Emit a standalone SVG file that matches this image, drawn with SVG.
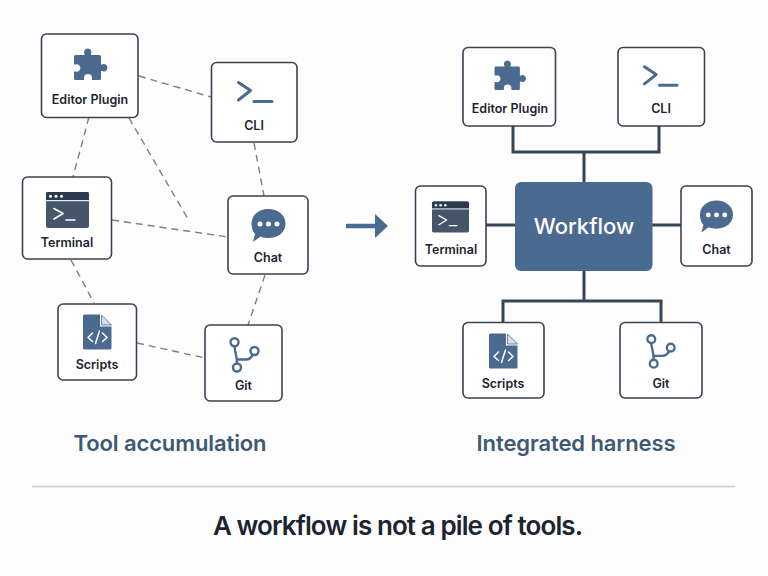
<svg xmlns="http://www.w3.org/2000/svg" width="768" height="576" viewBox="0 0 768 576">
<style>
.box{fill:#fff;stroke:#3a4350;stroke-width:1.6}
.lbl{font-family:Inter,"Liberation Sans",sans-serif;font-weight:600;font-size:12.5px;fill:#1c2430;text-anchor:middle}
.head{font-family:Inter,"Liberation Sans",sans-serif;font-weight:600;font-size:22px;letter-spacing:-0.1px;fill:#3e5876;text-anchor:middle}
.dash{fill:none;stroke:#7a8087;stroke-width:1.4;stroke-dasharray:7 5}
.solid{fill:none;stroke:#36465a;stroke-width:3}
.ic{fill:#4a6a8f}
.icl{fill:none;stroke:#4a6a8f;stroke-linecap:round;stroke-linejoin:round}
</style>
<defs>
<symbol id="puzzle" viewBox="0 0 33 33" overflow="visible">
<path class="ic" d="M1.500 7H10.500V6A3.700 3.700 0 1 1 17 6V7H25.500Q27 7 27 8.500V16.500H28A3.700 3.700 0 1 1 28 23H27V30.500Q27 32 25.500 32H18V30A4 4 0 0 0 10 30V32H1.500Q0 32 0 30.500V23.500H1.500A3.700 3.700 0 1 0 1.500 16.500H0V8.500Q0 7 1.500 7Z"/>
</symbol>
<symbol id="prompt" viewBox="0 0 36 22" overflow="visible">
<path class="icl" stroke-width="3" d="M1.500 1.500L13.500 9.500L1.500 19"/>
<path class="icl" stroke-width="3" stroke-linecap="butt" d="M17 20.500H35"/>
</symbol>
<symbol id="term" viewBox="0 0 43 36" overflow="visible">
<rect x="0" y="0" width="43" height="36" rx="2" fill="#45566a"/>
<path d="M2 0H41Q43 0 43 2V8H0V2Q0 0 2 0Z" fill="#2c3a4d"/>
<rect x="0" y="8" width="43" height="1.200" fill="#e8edf2"/>
<circle cx="4.500" cy="4.300" r="1.500" fill="#fff"/><circle cx="10" cy="4.300" r="1.500" fill="#fff"/><circle cx="15.500" cy="4.300" r="1.500" fill="#fff"/>
<path d="M8 16.500L17 21.500L8 27M20 28H29" fill="none" stroke="#fff" stroke-width="1.600" stroke-linecap="round" stroke-linejoin="round"/>
</symbol>
<symbol id="chat" viewBox="0 0 36 33" overflow="visible">
<path class="ic" d="M18 0C28 0 35 6.500 35 14.500C35 23 28 29 18 29C15 29 12.500 28.500 10 27.500L2.500 33L4.500 25C2 22.500 1 18.500 1 14.500C1 6.500 8 0 18 0Z"/>
<circle cx="9.500" cy="15" r="2.500" fill="#fff"/><circle cx="18" cy="15" r="2.500" fill="#fff"/><circle cx="26.500" cy="15" r="2.500" fill="#fff"/>
</symbol>
<symbol id="file" viewBox="0 0 29 35" overflow="visible">
<path class="ic" d="M1.500 0H17V12H28.500V33.500Q28.500 35 27 35H1.500Q0 35 0 33.500V1.500Q0 0 1.500 0Z"/>
<path d="M18.500 0.500L28.500 10.500H18.500Z" fill="#d5deea" stroke="#4a6a8f" stroke-width="0.800"/>
<path d="M9.500 18.500L5 23L9.500 27M19.500 18.500L24 23L19.500 27M16.500 16.500L12.500 29" fill="none" stroke="#fff" stroke-width="1.500" stroke-linecap="round" stroke-linejoin="round"/>
</symbol>
<symbol id="git" viewBox="0 0 30 36" overflow="visible">
<path class="icl" stroke-width="2.400" d="M5 9C5.500 16 7.500 19 7.500 26M8 22.500H16C20 22.500 22 21 23.500 17"/>
<circle cx="5" cy="5.300" r="4" fill="#fff" stroke="#4a6a8f" stroke-width="2.400"/>
<circle cx="25" cy="14" r="4" fill="#fff" stroke="#4a6a8f" stroke-width="2.400"/>
<circle cx="7.500" cy="30.500" r="4" fill="#fff" stroke="#4a6a8f" stroke-width="2.400"/>
</symbol>
</defs>
<rect width="768" height="576" fill="#fdfdfd"/>
<g id="connectors">
<path class="dash" d="M139 76L211 97"/>
<path class="dash" d="M89 117L73 177"/>
<path class="dash" d="M129 118L188 219"/>
<path class="dash" d="M254 143L264 196"/>
<path class="dash" d="M112 220L228 237"/>
<path class="dash" d="M71 260L94 303"/>
<path class="dash" d="M265 275L248 325"/>
<path class="dash" d="M137 343L205 358"/>
<path class="solid" d="M513 126V152H659V126M584 152V182"/>
<path class="solid" d="M486 225H515M652 225H681"/>
<path class="solid" d="M584 271V300M503 322V301H661V322"/>
<path d="M346 226H377" fill="none" stroke="#4a6a8f" stroke-width="4.500"/>
<path d="M375 214L388 226L375 238Z" fill="#4a6a8f"/>
</g>
<g id="left-editor"><rect class="box" x="41.500" y="34" width="96.500" height="83.500" rx="5"/><use href="#puzzle" x="74" y="48" width="33" height="33"/><text class="lbl" x="90" y="104">Editor Plugin</text></g>
<g id="left-cli"><rect class="box" x="211.500" y="62.500" width="85.500" height="79.500" rx="5"/><use href="#prompt" x="237" y="81" width="36" height="22"/><text class="lbl" x="254" y="130">CLI</text></g>
<g id="left-terminal"><rect class="box" x="22.500" y="177" width="89" height="82" rx="5"/><use href="#term" x="46" y="192" width="43" height="36"/><text class="lbl" x="67" y="247">Terminal</text></g>
<g id="left-chat"><rect class="box" x="228" y="196" width="80" height="78" rx="5"/><use href="#chat" x="250.500" y="209" width="36" height="33"/><text class="lbl" x="268" y="262">Chat</text></g>
<g id="left-scripts"><rect class="box" x="58" y="304" width="78.500" height="76" rx="5"/><use href="#file" x="83" y="314.500" width="29" height="35"/><text class="lbl" x="97" y="369">Scripts</text></g>
<g id="left-git"><rect class="box" x="205" y="325" width="77" height="76" rx="5"/><use href="#git" x="229.500" y="337" width="30" height="36"/><text class="lbl" x="243.500" y="390">Git</text></g>
<g id="right-editor"><rect class="box" x="463" y="47.500" width="92.500" height="78.500" rx="5"/><use href="#puzzle" x="494.500" y="60" width="31" height="31"/><text class="lbl" x="510" y="113">Editor Plugin</text></g>
<g id="right-cli"><rect class="box" x="618" y="47.500" width="86.500" height="78.500" rx="5"/><use href="#prompt" x="643" y="65" width="35" height="22"/><text class="lbl" x="661" y="113">CLI</text></g>
<g id="right-terminal"><rect class="box" x="415.500" y="186" width="70.500" height="80" rx="5"/><use href="#term" x="432" y="200" width="37" height="34"/><text class="lbl" x="451" y="254">Terminal</text></g>
<g id="right-chat"><rect class="box" x="681" y="186" width="71" height="80" rx="5"/><use href="#chat" x="699" y="200" width="35" height="33"/><text class="lbl" x="716.500" y="254">Chat</text></g>
<g id="right-scripts"><rect class="box" x="463" y="322.500" width="81" height="75.500" rx="5"/><use href="#file" x="489" y="333.500" width="29" height="35"/><text class="lbl" x="503" y="388">Scripts</text></g>
<g id="right-git"><rect class="box" x="620" y="322.500" width="82" height="75.500" rx="5"/><use href="#git" x="646" y="334" width="30" height="35"/><text class="lbl" x="661" y="388">Git</text></g>
<g id="workflow"><rect x="515" y="182" width="137.500" height="89" rx="6" fill="#4a6a8f"/><text x="584" y="234" text-anchor="middle" font-family="Inter,'Liberation Sans',sans-serif" font-weight="500" font-size="22" fill="#fff">Workflow</text></g>
<text class="head" x="170" y="451">Tool accumulation</text>
<text class="head" x="576" y="451">Integrated harness</text>
<path d="M32 486.500H735" stroke="#c9cccf" stroke-width="1.500"/>
<text x="397.500" y="535" text-anchor="middle" font-family="Inter,'Liberation Sans',sans-serif" font-weight="600" font-size="26" letter-spacing="-0.9" fill="#1c2430">A workflow is not a pile of tools.</text>
</svg>
